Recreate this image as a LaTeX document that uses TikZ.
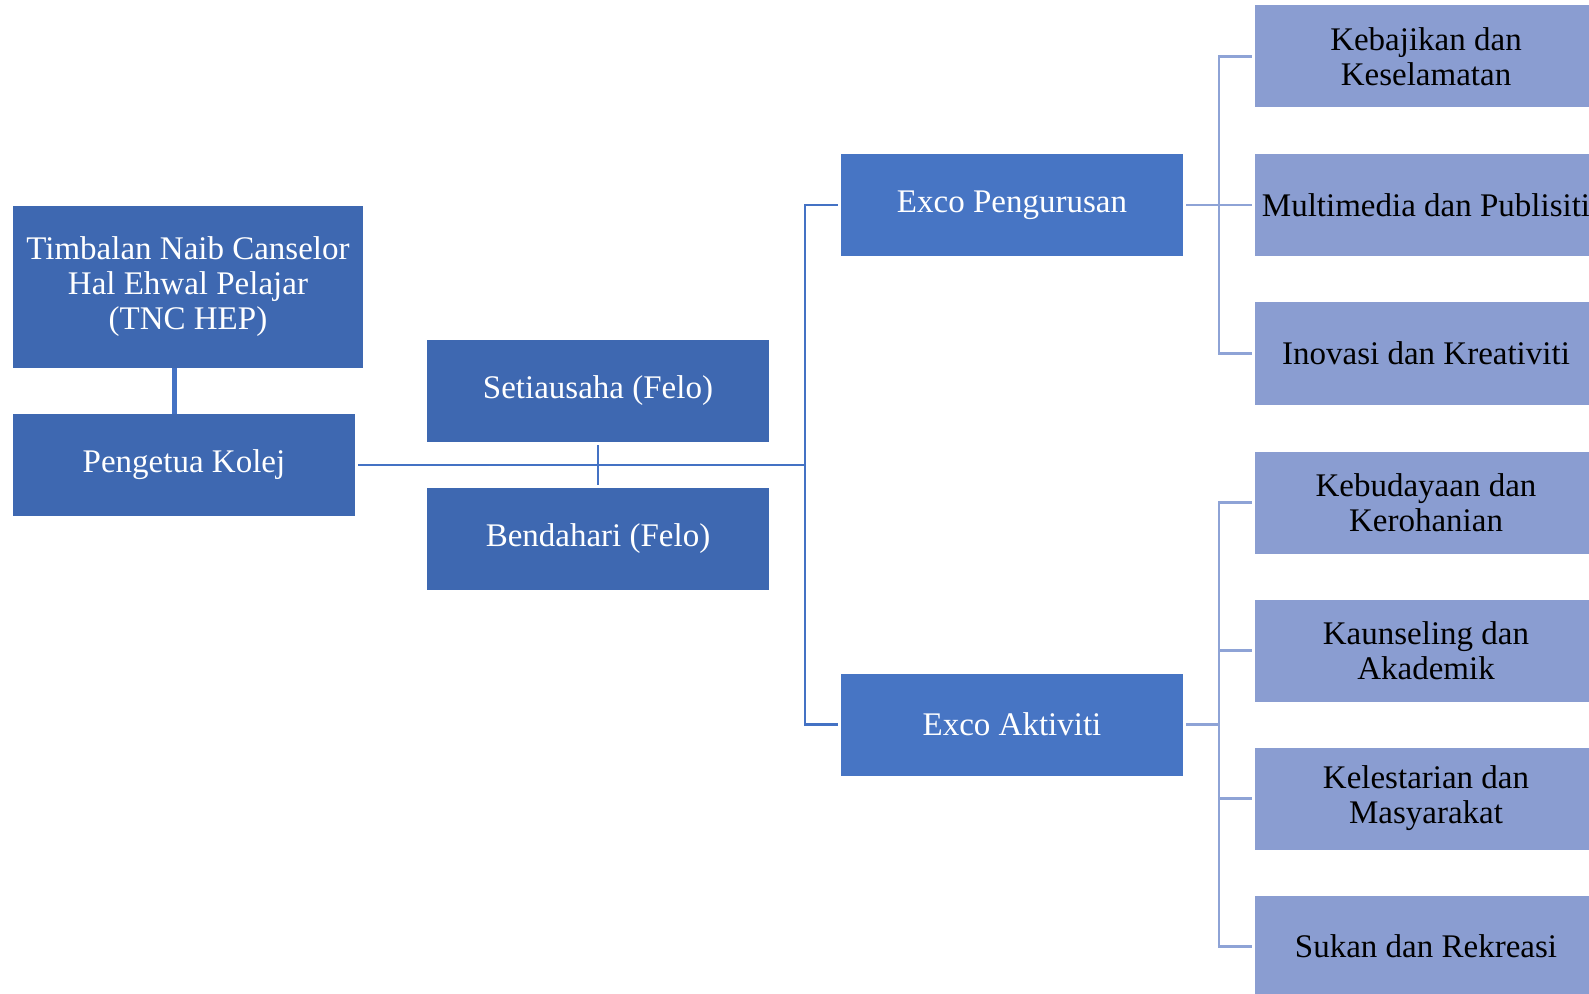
\documentclass[tikz,border=0pt]{standalone}
\usepackage{fontspec}
\setmainfont{Liberation Serif}
\definecolor{deepblue}{HTML}{3E68B1}
\definecolor{midblue}{HTML}{4775C4}
\definecolor{paleblue}{HTML}{8A9DD1}
\definecolor{linkblue}{HTML}{4472C4}
\definecolor{palelink}{HTML}{8EA3D6}
\begin{document}
\begin{tikzpicture}[x=0.5pt,y=-0.5pt,
  base/.style={rectangle,inner sep=0pt,align=center,
    minimum width=171pt,minimum height=51pt,
    font=\fontsize{16.5}{17.5}\selectfont},
  darkbox/.style={base,fill=deepblue,text=white},
  excobox/.style={base,fill=midblue,text=white},
  unitbox/.style={base,fill=paleblue,text=black},
  link/.style={draw=linkblue,line width=1.3pt},
  palelinkline/.style={draw=palelink,line width=1.3pt}]
\useasboundingbox (0,0) rectangle (1589,994);
\clip (0,0) rectangle (1589,994);

% leadership
\node[darkbox,minimum width=175pt,minimum height=81pt] (tnc) at (188,287)
  {Timbalan Naib Canselor\\Hal Ehwal Pelajar\\(TNC HEP)};
\node[darkbox] (pengetua) at (184,465) {Pengetua Kolej};
\node[darkbox] (setia) at (598,391) {Setiausaha (Felo)};
\node[darkbox] (bendahari) at (598,539) {Bendahari (Felo)};

% executive committees
\node[excobox] (urus) at (1012,205) {Exco Pengurusan};
\node[excobox] (aktiv) at (1012,724.5) {Exco Aktiviti};

% units
\node[unitbox] (u1) at (1426,56.5) {Kebajikan dan\\Keselamatan};
\node[unitbox] (u2) at (1426,205) {Multimedia dan Publisiti};
\node[unitbox] (u3) at (1426,353.5) {Inovasi dan Kreativiti};
\node[unitbox] (a1) at (1426,502.5) {Kebudayaan dan\\Kerohanian};
\node[unitbox] (a2) at (1426,650.5) {Kaunseling dan\\Akademik};
\node[unitbox] (a3) at (1426,798.5) {Kelestarian dan\\Masyarakat};
\node[unitbox] (a4) at (1426,946.5) {Sukan dan Rekreasi};

% junction columns
\coordinate (col) at (174,0);
\coordinate (trunk) at (805,0);
\coordinate (brk) at (1219,0);

% TNC to Pengetua
\draw[link,line width=2.5pt] (tnc.south -| col) -- (pengetua.north -| col);

% Pengetua to the committee trunk
\draw[link] ([xshift=1.5pt]pengetua.east) -- (pengetua.east -| trunk);
\draw[link] ([xshift=-1.5pt]urus.west) -- (urus.west -| trunk)
  -- (aktiv.west -| trunk) -- ([xshift=-1.5pt]aktiv.west);
\draw[link,shorten <=1.5pt,shorten >=1.5pt] (setia.south) -- (bendahari.north);

% Exco Pengurusan units
\draw[palelinkline] ([xshift=1.5pt]urus.east) -- (urus.east -| brk);
\draw[palelinkline] ([xshift=-1.5pt]u1.west) -- (u1.west -| brk)
  -- (u3.west -| brk) -- ([xshift=-1.5pt]u3.west);
\draw[palelinkline] (u2.west -| brk) -- ([xshift=-1.5pt]u2.west);

% Exco Aktiviti units
\draw[palelinkline] ([xshift=1.5pt]aktiv.east) -- (aktiv.east -| brk);
\draw[palelinkline] ([xshift=-1.5pt]a1.west) -- (a1.west -| brk)
  -- (a4.west -| brk) -- ([xshift=-1.5pt]a4.west);
\draw[palelinkline] (a2.west -| brk) -- ([xshift=-1.5pt]a2.west);
\draw[palelinkline] (a3.west -| brk) -- ([xshift=-1.5pt]a3.west);
\end{tikzpicture}
\end{document}
